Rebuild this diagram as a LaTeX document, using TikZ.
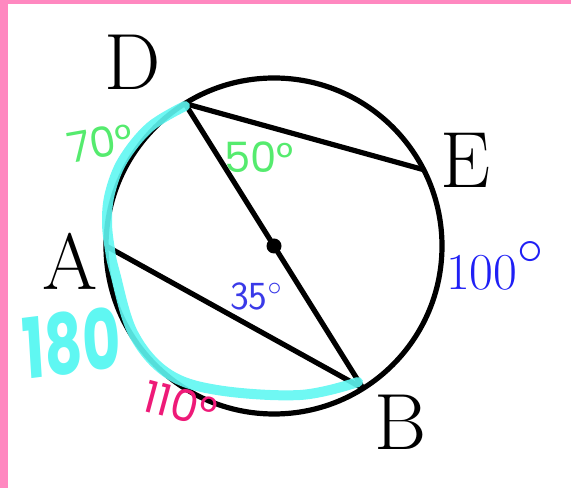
\RequirePackage{fix-cm}
\documentclass[tikz,border=0pt]{standalone}
\usepackage{fontspec}
\usepackage{tikz}
\usetikzlibrary{calc}
\newfontfamily\handfont{Poppins}
\definecolor{pinkbar}{HTML}{FF88C0}
\definecolor{markgreen}{HTML}{55EB6E}
\definecolor{markcyan}{HTML}{5FF7F2}
\definecolor{markpink}{HTML}{EE1A78}
\definecolor{arcblue}{HTML}{1F1FF5}
\definecolor{angblue}{HTML}{3A3AE8}

\begin{document}
\begin{tikzpicture}[x=1bp, y=1bp,
    chord/.style={line width=5.2bp},
    ptlabel/.style={inner sep=0pt, anchor=base, font=\fontsize{80}{80}\selectfont},
    hand/.style={inner sep=0pt, font=\handfont\fontsize{42}{42}\selectfont}]
  \useasboundingbox (0,0) rectangle (571,488);
  % pink frame on the left and top
  \fill[pinkbar] (0,0) rectangle (8,488);
  \fill[pinkbar] (0,484) rectangle (571,488);

  % circle with centre O, points D, E, A, B on it
  \coordinate (O) at (274,242);
  \coordinate (D) at ($(O)+(122:168)$);
  \coordinate (E) at ($(O)+(27:168)$);
  \coordinate (A) at ($(O)+(180:168)$);
  \coordinate (B) at ($(O)+(-58:168)$);
  \draw[chord] (O) circle (168);
  \draw[chord] (D) -- (E);
  \draw[chord] (D) -- (B);
  \draw[chord] (A) -- (B);
  \fill (O) circle (7.5);

  % hand drawn arc D -> A -> B
  \draw[markcyan, line width=10bp, line cap=round, opacity=0.9]
    plot[smooth, tension=0.6] coordinates {(185,382) (150,361) (123,328) (110,295)
      (107,266) (110,238) (115,215) (133,155) (167,115) (217,98) (300,93) (358,106)};

  % point labels
  \node[ptlabel] (labD) at (133,398) {D};
  \node[ptlabel] (labE) at (466,300) {E};
  \node[ptlabel] (labA) at (70,198) {A};
  \node[ptlabel] (labB) at (401,38) {B};

  % printed measures
  \node[inner sep=0pt, anchor=base west, text=arcblue, font=\fontsize{52}{52}\selectfont]
    (arcBE) at (446,198) {100\raisebox{0.5em}{$\circ$}};
  \node[inner sep=0pt, anchor=base west, text=angblue, font=\sffamily\fontsize{40}{40}\selectfont]
    (angB) at (230,178) {35$^\circ$};

  % hand written measures
  \node[hand, text=markgreen, rotate=10] (arcDA) at (100,345) {70°};
  \node[hand, text=markgreen] (angD) at (259,331) {50°};
  \node[hand, text=markcyan, font=\handfont\bfseries\fontsize{84}{84}\selectfont,
    xscale=0.7, rotate=5] (arcDAB) at (72,145) {180};
  \node[hand, text=markpink, font=\handfont\fontsize{44}{44}\selectfont, rotate=-15]
    (arcAB) at (180,84) {110°};
\end{tikzpicture}
\end{document}
